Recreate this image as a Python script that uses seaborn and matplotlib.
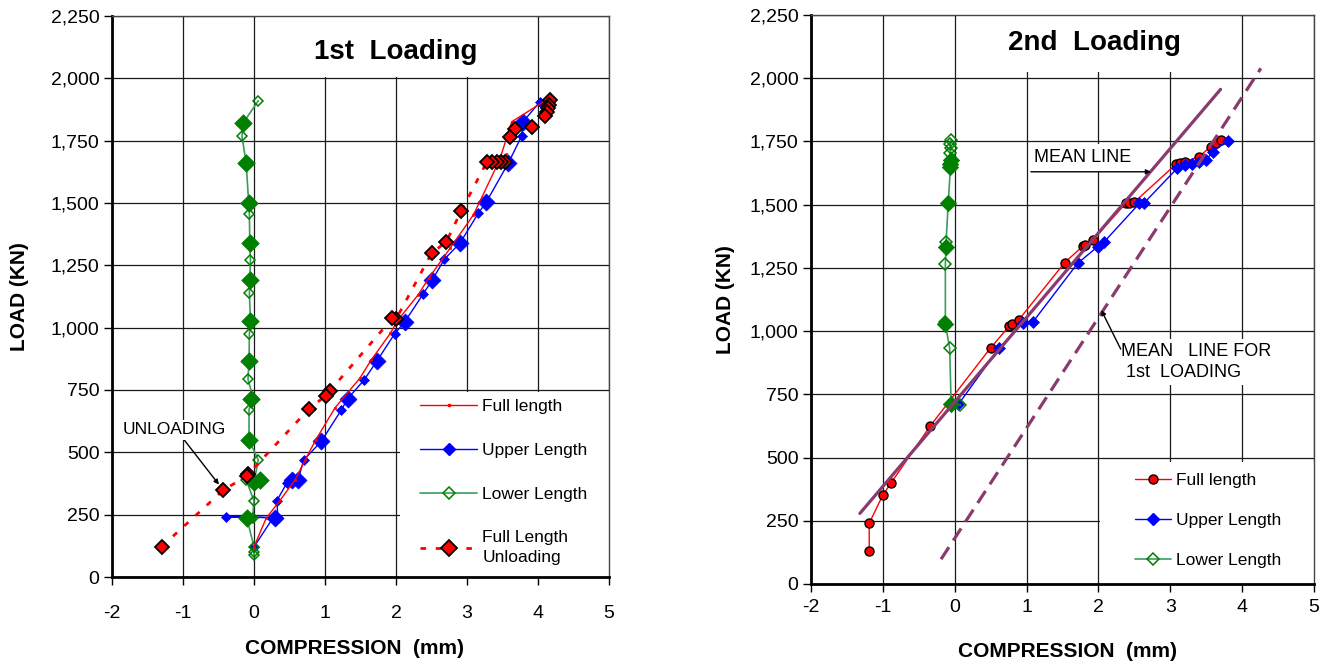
import numpy as np
import pandas as pd
import matplotlib
matplotlib.use("Agg")
import matplotlib.pyplot as plt
import seaborn as sns
from matplotlib.lines import Line2D
from matplotlib.patches import Rectangle
from matplotlib.ticker import FuncFormatter

sns.set_theme(style="white")
plt.rcParams['font.family'] = ['Liberation Sans', 'DejaVu Sans']
plt.rcParams['axes.unicode_minus'] = False

# ---------------- 1st loading ----------------
full1_x = [0.00, 0.17, 0.36, 0.58, 0.72, 0.87, 1.14, 1.49, 1.65, 1.92, 2.02, 2.31, 2.46, 2.76, 3.09, 3.46, 3.63, 4.10]
full1_y = [121, 235, 305, 390, 469, 550, 678, 797, 870, 977, 1028, 1131, 1198, 1318, 1452, 1673, 1826, 1910]

up1_x = [0.00, 0.27, -0.39, 0.27, 0.34, 0.32, 0.46, 0.53, 0.62, 0.70, 0.95, 1.23, 1.32, 1.55, 1.73, 1.98, 2.12, 2.38, 2.51, 2.68, 2.90, 3.16, 3.27, 3.58, 3.77, 3.79, 4.03]
up1_y = [121, 238, 242, 238, 235, 305, 376, 389, 389, 469, 545, 670, 715, 790, 866, 975, 1022, 1134, 1191, 1274, 1339, 1459, 1503, 1659, 1769, 1826, 1907]
up1_hold_x = [0.30, 0.53, 0.62, 0.95, 1.32, 1.73, 2.12, 2.51, 2.90, 3.27, 3.58, 3.79]
up1_hold_y = [237, 389, 389, 545, 715, 866, 1022, 1191, 1339, 1503, 1659, 1826]

low1_x = [0.00, 0.00, 0.00, -0.10, -0.02, 0.00, -0.11, 0.085, 0.00, 0.06, -0.07, -0.07, -0.04, -0.01, -0.085, -0.07, -0.065, -0.05,
          -0.065, -0.06, -0.05, -0.06, -0.065, -0.075, -0.11, -0.17, -0.15, 0.06]
low1_y = [88, 100, 121, 235, 238, 305, 389, 392, 380, 469, 550, 670, 710, 717, 793, 868, 975, 1028,
          1138, 1191, 1272, 1341, 1456, 1501, 1659, 1769, 1822, 1910]
low1_hold_x = [-0.10, 0.00, 0.085, -0.07, -0.04, -0.07, -0.05, -0.06, -0.06, -0.075, -0.11, -0.15]
low1_hold_y = [235, 380, 389, 550, 712, 868, 1028, 1191, 1341, 1501, 1659, 1822]

unl1_x = [4.17, 4.16, 4.14, 4.12, 4.10, 3.91, 3.67, 3.61, 3.54, 3.48, 3.42, 3.35, 3.28, 2.92, 2.71, 2.50, 2.00, 1.95,
          1.07, 1.01, 0.77, -0.08, -0.10, -0.43, -1.30]
unl1_y = [1912, 1895, 1880, 1865, 1850, 1806, 1796, 1766, 1665, 1665, 1665, 1665, 1665, 1469, 1345, 1298, 1034, 1038,
          747, 727, 673, 413, 405, 349, 122]

# ---------------- 2nd loading ----------------
full2_x = [-1.19, -1.19, -1.00, -0.89, -0.34, 0.50, 0.76, 0.80, 0.89, 1.53, 1.78, 1.82, 1.92, 2.38, 2.43, 2.50,
           3.08, 3.13, 3.20, 3.40, 3.56, 3.63, 3.70]
full2_y = [132, 240, 352, 398, 625, 934, 1020, 1027, 1044, 1271, 1335, 1340, 1360, 1505, 1508, 1510,
           1660, 1666, 1670, 1690, 1729, 1745, 1756]

up2_x = [-0.05, 0.05, 0.62, 0.95, 1.09, 1.71, 1.99, 2.08, 2.57, 2.64, 3.10, 3.20, 3.30, 3.40, 3.50, 3.59, 3.80]
up2_y = [712, 710, 934, 1031, 1037, 1268, 1334, 1353, 1505, 1508, 1645, 1655, 1660, 1668, 1675, 1710, 1753]

low2_x = [0.08, -0.05, -0.07, -0.13, -0.13, -0.13, -0.12, -0.12, -0.09, -0.06, -0.06, -0.05, -0.06, -0.05, -0.07, -0.05]
low2_y = [708, 712, 932, 1027, 1037, 1265, 1334, 1354, 1508, 1645, 1660, 1675, 1703, 1725, 1740, 1756]
low2_hold_x = [-0.05, -0.13, -0.12, -0.09, -0.06, -0.06, -0.05]
low2_hold_y = [712, 1030, 1334, 1508, 1648, 1662, 1675]

mean2_x = [-1.32, 3.70]
mean2_y = [279, 1956]
mean1_x = [-0.19, 4.26]
mean1_y = [98, 2039]

x_ticks = [-2, -1, 0, 1, 2, 3, 4, 5]
y_ticks = [0, 250, 500, 750, 1000, 1250, 1500, 1750, 2000, 2250]

RED = '#FF0000'
BLUE = '#0000FF'
GLINE = '#3A9D5D'
GMARK = '#008000'
PURPLE = '#8B3A6E'

W, H = 1336, 662
fig = plt.figure(figsize=(W / 100, H / 100), dpi=100)
fig.patch.set_facecolor('white')
ax1 = fig.add_axes([112 / W, 1 - 577 / H, (609 - 112) / W, (577 - 16) / H])
ax2 = fig.add_axes([811 / W, 1 - 584 / H, (1314 - 811) / W, (584 - 15) / H])


def style(ax, xlab_pos, ylab_pos, xpad):
    ax.set_facecolor('white')
    ax.set_xlim(-2, 5)
    ax.set_ylim(0, 2250)
    ax.set_xticks(x_ticks)
    ax.set_yticks(y_ticks)
    ax.yaxis.set_major_formatter(FuncFormatter(lambda v, p: f"{int(v):,}"))
    ax.grid(True, color='#1a1a1a', lw=0.9)
    ax.set_axisbelow(True)
    ax.tick_params(axis='both', direction='out', length=6, width=1, labelsize=14,
                   color='black', labelcolor='black', left=True, bottom=True, pad=3)
    ax.tick_params(axis='x', pad=xpad)
    for s in ['left', 'bottom']:
        ax.spines[s].set_color('black')
        ax.spines[s].set_linewidth(2)
    for s in ['top', 'right']:
        ax.spines[s].set_color('#444444')
        ax.spines[s].set_linewidth(1)
    ax.set_xlabel('COMPRESSION  (mm)', fontsize=15, fontweight='bold', color='black')
    ax.set_ylabel('LOAD (KN)', fontsize=15, fontweight='bold', color='black')
    ax.xaxis.set_label_coords(*xlab_pos)
    ax.yaxis.set_label_coords(*ylab_pos)


style(ax1, (0.487, -0.11), (-0.168, 0.5), 14.5)
style(ax2, (0.509, -0.102), (-0.152, 0.5), 5)

# white boxes (title / legend areas hide the grid)
ax1.add_patch(Rectangle((0.03, 2004), 3.94, 250, facecolor='white', edgecolor='none', zorder=1))
ax1.add_patch(Rectangle((2.06, 0), 3.0, 742, facecolor='white', edgecolor='none', zorder=1))
ax2.add_patch(Rectangle((0.03, 2024), 3.94, 230, facecolor='white', edgecolor='none', zorder=1))
ax2.add_patch(Rectangle((2.02, 0), 3.0, 482, facecolor='white', edgecolor='none', zorder=1))

# ---------- left panel ----------
sns.lineplot(x=up1_x, y=up1_y, sort=False, estimator=None, ax=ax1, color=BLUE, lw=1,
             marker='D', markersize=5.5, markerfacecolor=BLUE, markeredgecolor=BLUE, markeredgewidth=0.5, zorder=3)
sns.scatterplot(x=up1_hold_x, y=up1_hold_y, ax=ax1, marker='D', s=75, color=BLUE, edgecolor=BLUE, linewidth=0.5, zorder=3)
sns.lineplot(x=low1_x, y=low1_y, sort=False, estimator=None, ax=ax1, color=GLINE, lw=1.2,
             marker='D', markersize=5.5, markerfacecolor='none', markeredgecolor=GMARK, markeredgewidth=1.1, zorder=3.5)
sns.scatterplot(x=low1_hold_x, y=low1_hold_y, ax=ax1, marker='D', s=80, color=GMARK, edgecolor=GMARK, linewidth=0.5, zorder=3.5)
sns.lineplot(x=full1_x, y=full1_y, sort=False, estimator=None, ax=ax1, color=RED, lw=1,
             marker='s', markersize=2, markerfacecolor=RED, markeredgecolor=RED, markeredgewidth=0.5, zorder=4)
sns.lineplot(x=unl1_x, y=unl1_y, sort=False, estimator=None, ax=ax1, color=RED, lw=2,
             linestyle=(0, (2, 3.5)), marker='D', markersize=7.5, markerfacecolor=RED,
             markeredgecolor='black', markeredgewidth=1.3, zorder=5)

ax1.text(2.0, 2104, '1st  Loading', ha='center', va='center', fontsize=20, fontweight='bold', color='black', zorder=6)
ax1.annotate('UNLOADING', xy=(-0.47, 362), xytext=(-1.12, 590), ha='center', va='center', fontsize=12.5,
             color='black', zorder=6,
             bbox=dict(boxstyle='square,pad=0.15', facecolor='white', edgecolor='none'),
             arrowprops=dict(arrowstyle='-|>', color='black', lw=1, mutation_scale=7,
                             relpos=(0.575, 0.0), shrinkA=0, shrinkB=2))

h1 = [Line2D([], [], color=RED, lw=1, marker='s', markersize=2, markerfacecolor=RED, markeredgecolor=RED),
      Line2D([], [], color=BLUE, lw=1, marker='D', markersize=6, markerfacecolor=BLUE, markeredgecolor=BLUE),
      Line2D([], [], color=GLINE, lw=1.2, marker='D', markersize=6, markerfacecolor='none', markeredgecolor=GMARK,
             markeredgewidth=1.1),
      Line2D([], [], color=RED, lw=2, linestyle=(0, (2, 3.5)), marker='D', markersize=8, markerfacecolor=RED,
             markeredgecolor='black', markeredgewidth=1.3)]
leg1 = ax1.legend(h1, ['Full length', 'Upper Length', 'Lower Length', 'Full Length\nUnloading'],
                  loc='upper left', bbox_to_anchor=((420 - 112) / 497, (577 - 399) / 561),
                  frameon=False, fontsize=12.5, handlelength=3.3, handletextpad=0.3,
                  labelspacing=1.65, borderpad=0, borderaxespad=0)
for t in leg1.get_texts():
    t.set_color('black')
    t.set_linespacing(1.4)

# ---------- right panel ----------
sns.lineplot(x=up2_x, y=up2_y, sort=False, estimator=None, ax=ax2, color=BLUE, lw=1,
             marker='D', markersize=6, markerfacecolor=BLUE, markeredgecolor=BLUE, markeredgewidth=0.5, zorder=3)
sns.lineplot(x=full2_x, y=full2_y, sort=False, estimator=None, ax=ax2, color=RED, lw=1,
             marker='o', markersize=6.5, markerfacecolor=RED, markeredgecolor='black', markeredgewidth=1, zorder=2.8)
sns.lineplot(x=low2_x, y=low2_y, sort=False, estimator=None, ax=ax2, color=GLINE, lw=1.2,
             marker='D', markersize=6, markerfacecolor='none', markeredgecolor=GMARK, markeredgewidth=1.1, zorder=3.5)
sns.scatterplot(x=low2_hold_x, y=low2_hold_y, ax=ax2, marker='D', s=70, color=GMARK, edgecolor=GMARK, linewidth=0.5, zorder=3.5)
sns.lineplot(x=mean2_x, y=mean2_y, sort=False, estimator=None, ax=ax2, color=PURPLE, lw=2.3, zorder=5)
sns.lineplot(x=mean1_x, y=mean1_y, sort=False, estimator=None, ax=ax2, color=PURPLE, lw=2.3,
             linestyle=(0, (4.5, 2.5)), zorder=5)

ax2.text(1.94, 2138, '2nd  Loading', ha='center', va='center', fontsize=20, fontweight='bold', color='black', zorder=6)
ax2.text(1.78, 1686, 'MEAN LINE', ha='center', va='center', fontsize=13, color='black', zorder=6,
         bbox=dict(boxstyle='square,pad=0.3', facecolor='white', edgecolor='none'))
ax2.annotate('', xy=(2.73, 1630), xytext=(1.06, 1630), zorder=7,
             arrowprops=dict(arrowstyle='-|>', color='black', lw=1, mutation_scale=7, shrinkA=0, shrinkB=0))
ax2.text(2.32, 878, 'MEAN   LINE FOR\n 1st  LOADING', ha='left', va='center', fontsize=13, color='black',
         linespacing=1.25, zorder=6,
         bbox=dict(boxstyle='square,pad=0.25', facecolor='white', edgecolor='none'))
ax2.annotate('', xy=(2.04, 1083), xytext=(2.31, 929), zorder=7,
             arrowprops=dict(arrowstyle='-|>', color='black', lw=1, mutation_scale=7, shrinkA=0, shrinkB=0))

h2 = [Line2D([], [], color=RED, lw=1, marker='o', markersize=6.5, markerfacecolor=RED, markeredgecolor='black'),
      Line2D([], [], color=BLUE, lw=1, marker='D', markersize=6, markerfacecolor=BLUE, markeredgecolor=BLUE),
      Line2D([], [], color=GLINE, lw=1.2, marker='D', markersize=6, markerfacecolor='none', markeredgecolor=GMARK,
             markeredgewidth=1.1)]
leg2 = ax2.legend(h2, ['Full length', 'Upper Length', 'Lower Length'],
                  loc='upper left', bbox_to_anchor=((1135 - 811) / 503, (584 - 473) / 569),
                  frameon=False, fontsize=12.5, handlelength=2.1, handletextpad=0.25,
                  labelspacing=1.42, borderpad=0, borderaxespad=0)
for t in leg2.get_texts():
    t.set_color('black')

fig.savefig('out.png', dpi=100, facecolor='white')
